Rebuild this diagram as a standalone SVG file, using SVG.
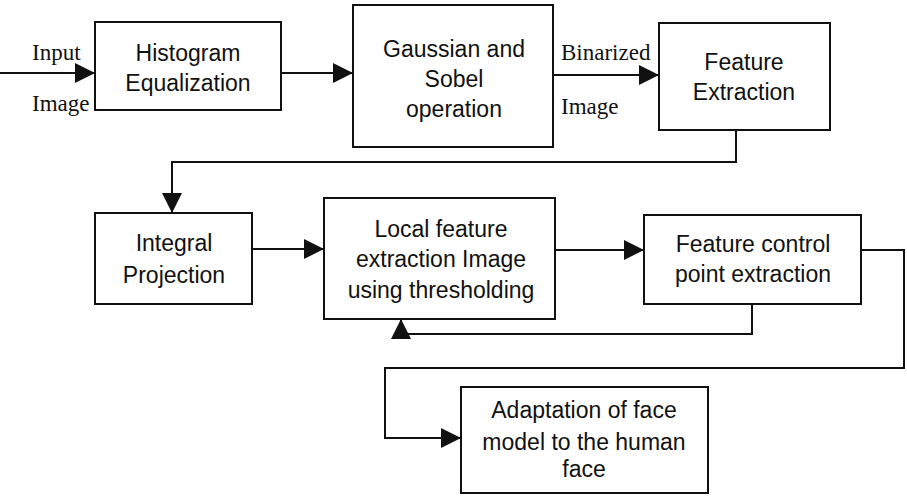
<svg xmlns="http://www.w3.org/2000/svg" width="907" height="500" viewBox="0 0 907 500">
<style>
.box{fill:#fff;stroke:#111;stroke-width:2}
.t{font-family:"Liberation Sans",Arial,sans-serif;font-size:23px;fill:#111;text-anchor:middle}
.s{font-family:"Liberation Serif","Times New Roman",serif;font-size:23px;fill:#111}
.c{fill:none;stroke:#111;stroke-width:2;marker-end:url(#ah)}
</style>
<defs>
<marker id="ah" markerUnits="userSpaceOnUse" markerWidth="20" markerHeight="20" refX="20" refY="10" orient="auto">
<path d="M0,0 L20,10 L0,20 z" fill="#111"/>
</marker>
</defs>
<rect width="907" height="500" fill="#fff"/>
<g id="connectors">
<path class="c" d="M0,73 H95"/>
<path class="c" d="M281,73 H353"/>
<path class="c" d="M553,75 H659"/>
<path class="c" d="M736,130 V162 H172 V213"/>
<path class="c" d="M252,249 H324"/>
<path class="c" d="M555,250 H644"/>
<path class="c" d="M752,304 V334 H401 V319"/>
<path class="c" d="M861,250 H904 V368 H385 V438 H461"/>
<text class="s" x="32" y="60">Input</text>
<text class="s" x="32" y="111">Image</text>
<text class="s" x="561" y="60">Binarized</text>
<text class="s" x="561" y="114">Image</text>
</g>
<g id="n1">
<rect class="box" x="95" y="22" width="186" height="88"/>
<text class="t" x="188" y="61">Histogram</text>
<text class="t" x="188" y="91">Equalization</text>
</g>
<g id="n2">
<rect class="box" x="353" y="5" width="200" height="142"/>
<text class="t" x="454" y="57">Gaussian and</text>
<text class="t" x="454" y="87">Sobel</text>
<text class="t" x="454" y="117">operation</text>
</g>
<g id="n3">
<rect class="box" x="659" y="23" width="171" height="107"/>
<text class="t" x="744" y="70">Feature</text>
<text class="t" x="744" y="100">Extraction</text>
</g>
<g id="n4">
<rect class="box" x="95" y="213" width="157" height="91"/>
<text class="t" x="174" y="251">Integral</text>
<text class="t" x="174" y="283">Projection</text>
</g>
<g id="n5">
<rect class="box" x="324" y="198" width="231" height="121"/>
<text class="t" x="441" y="237">Local feature</text>
<text class="t" x="441" y="267">extraction Image</text>
<text class="t" x="441" y="298">using thresholding</text>
</g>
<g id="n6">
<rect class="box" x="644" y="215" width="217" height="89"/>
<text class="t" x="753" y="252">Feature control</text>
<text class="t" x="753" y="282">point extraction</text>
</g>
<g id="n7">
<rect class="box" x="461" y="387" width="247" height="106"/>
<text class="t" x="584" y="418">Adaptation of face</text>
<text class="t" x="584" y="450">model to the human</text>
<text class="t" x="584" y="477">face</text>
</g>
</svg>
